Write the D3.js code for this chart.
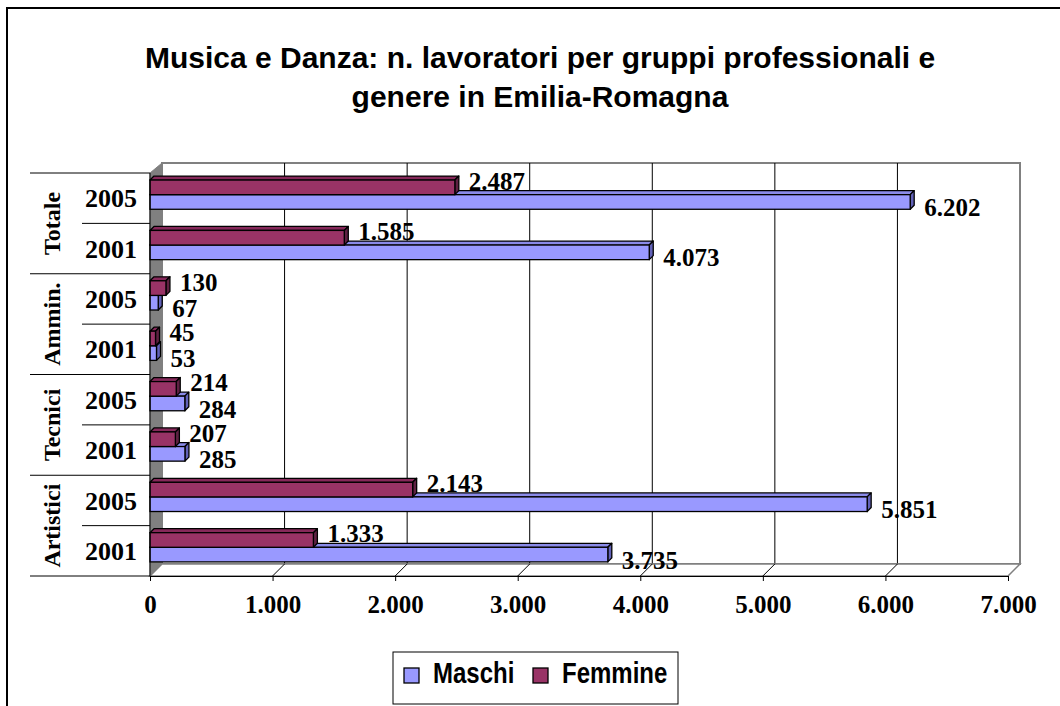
<!DOCTYPE html>
<html>
<head>
<meta charset="utf-8">
<script src="https://cdn.jsdelivr.net/npm/d3@7"></script>
<style>
  body { margin: 0; background: #fff; }
  svg text { fill: #000; }
  .serif { font-family: "Liberation Serif", "Times New Roman", serif; font-weight: bold; }
  .sans { font-family: "Liberation Sans", Arial, sans-serif; font-weight: bold; }
</style>
</head>
<body>
<div id="chart"></div>
<script>
// data
var groups = ["Totale", "Ammin.", "Tecnici", "Artistici"];
var years = ["2005", "2001"];
var maschi = [6202, 4073, 67, 53, 284, 285, 5851, 3735];
var femmine = [2487, 1585, 130, 45, 214, 207, 2143, 1333];
var xTicks = [0, 1000, 2000, 3000, 4000, 5000, 6000, 7000];
var seriesNames = ["Maschi", "Femmine"];

var W = 1060, H = 706;
var depth = 12,      // wall depth offset
    bd = 4;          // bar depth offset

var itFormat = d3.formatLocale({decimal: ",", thousands: ".", grouping: [3], currency: ["€", ""]}).format(",d");

// one row per group/year, top to bottom
var rows = [];
groups.forEach(function (g, gi) {
    years.forEach(function (yr, yi) {
        var i = gi * 2 + yi;
        rows.push({key: g + "-" + yr, group: g, year: yr, m: maschi[i], f: femmine[i]});
    });
});

var svg = d3.select("#chart").append("svg")
    .attr("width", W)
    .attr("height", H);

// outer frame
svg.append("rect")
    .attr("x", 7).attr("y", 8)
    .attr("width", 1200).attr("height", 900)
    .attr("fill", "none")
    .attr("stroke", "#000")
    .attr("stroke-width", 2);

// title
svg.append("text")
    .attr("class", "sans")
    .attr("x", 540)
    .attr("y", 68)
    .attr("text-anchor", "middle")
    .style("font-size", "30px")
    .text("Musica e Danza: n. lavoratori per gruppi professionali e");
svg.append("text")
    .attr("class", "sans")
    .attr("x", 540)
    .attr("y", 107)
    .attr("text-anchor", "middle")
    .style("font-size", "30px")
    .text("genere in Emilia-Romagna");

var x = d3.scaleLinear().domain([0, 7000]).range([150, 1008]);
var y = d3.scaleBand().domain(rows.map(function (d) { return d.key; })).range([173, 576]);
var bw = y.bandwidth(),
    barH = bw * 0.29,
    x0 = x(0), x1 = x(7000),
    yTop = 173, yBot = 576;

// back wall
svg.append("polygon")
    .attr("points", [[x0 + depth, yTop - depth + 2], [x1 + depth, yTop - depth + 2], [x1 + depth, yBot - depth], [x0 + depth, yBot - depth]].join(" "))
    .attr("fill", "#fff")
    .attr("stroke", "#808080")
    .attr("stroke-width", 2);

// gridlines on back wall
svg.selectAll(".grid")
    .data(xTicks.filter(function (v) { return v > 0 && v < 7000; }))
    .enter().append("line")
    .attr("class", "grid")
    .attr("x1", function (d) { return x(d) + depth; })
    .attr("x2", function (d) { return x(d) + depth; })
    .attr("y1", yTop - depth + 2)
    .attr("y2", yBot - depth)
    .attr("stroke", "#000")
    .attr("stroke-width", 1);

// side wall
svg.append("polygon")
    .attr("points", [[x0, yTop], [x0 + depth, yTop - depth + 2], [x0 + depth, yBot - depth], [x0, yBot]].join(" "))
    .attr("fill", "#808080")
    .attr("stroke", "#808080");

// floor
svg.append("polygon")
    .attr("points", [[x0, yBot], [x0 + depth, yBot - depth], [x1 + depth, yBot - depth], [x1, yBot]].join(" "))
    .attr("fill", "#fff")
    .attr("stroke", "#808080")
    .attr("stroke-width", 1.5);
svg.selectAll(".floorline")
    .data(xTicks.filter(function (v) { return v > 0; }))
    .enter().append("line")
    .attr("class", "floorline")
    .attr("x1", function (d) { return x(d); })
    .attr("y1", yBot)
    .attr("x2", function (d) { return x(d) + depth; })
    .attr("y2", yBot - depth)
    .attr("stroke", function (d) { return d === 7000 ? "#808080" : "#000"; });

// x axis
var xAxis = svg.append("g")
    .attr("transform", "translate(0," + yBot + ")")
    .call(d3.axisBottom(x).tickValues(xTicks).tickFormat(itFormat).tickSize(5).tickSizeOuter(0).tickPadding(14));
xAxis.selectAll("text").attr("class", "serif").style("font-size", "25px").attr("fill", "#000");
xAxis.selectAll("line, path").attr("stroke", "#000");

// bars
var shades = {
    Maschi: {front: "#9999ff", top: "#8a8ae8", side: "#6262b8"},
    Femmine: {front: "#993366", top: "#86295a", side: "#5e2142"}
};

function bar3d(g, xEnd, yy, h, col) {
    var xs = x0, xe = xEnd;
    g.append("polygon")
        .attr("points", [[xs, yy], [xs + bd, yy - bd], [xe + bd, yy - bd], [xe, yy]].join(" "))
        .attr("fill", col.top).attr("stroke", "#000").attr("stroke-width", 1.3)
        .attr("stroke-linejoin", "round");
    g.append("polygon")
        .attr("points", [[xe, yy], [xe + bd, yy - bd], [xe + bd, yy + h - bd], [xe, yy + h]].join(" "))
        .attr("fill", col.side).attr("stroke", "#000").attr("stroke-width", 1.3)
        .attr("stroke-linejoin", "round");
    g.append("rect")
        .attr("x", xs).attr("y", yy)
        .attr("width", xe - xs).attr("height", h)
        .attr("fill", col.front).attr("stroke", "#000").attr("stroke-width", 1.3);
}

var rowG = svg.selectAll(".row")
    .data(rows)
    .enter().append("g")
    .attr("class", "row");

rowG.each(function (d) {
    var g = d3.select(this);
    var top = y(d.key);
    // maschi first (below), femmine drawn over it
    bar3d(g, x(d.m), top + bw * 0.14 + barH, barH, shades.Maschi);
    bar3d(g, x(d.f), top + bw * 0.14, barH, shades.Femmine);
});

// value labels
svg.selectAll(".lblF")
    .data(rows)
    .enter().append("text")
    .attr("class", "serif")
    .attr("x", function (d) { return x(d.f) + 14; })
    .attr("y", function (d) { return y(d.key) + bw * 0.16; })
    .attr("dy", "0.35em")
    .style("font-size", "25px")
    .text(function (d) { return itFormat(d.f); });

svg.selectAll(".lblM")
    .data(rows)
    .enter().append("text")
    .attr("class", "serif")
    .attr("x", function (d) { return x(d.m) + 14; })
    .attr("y", function (d) { return y(d.key) + bw * 0.68; })
    .attr("dy", "0.35em")
    .style("font-size", "25px")
    .text(function (d) { return itFormat(d.m); });

// left category axis
svg.append("line")
    .attr("x1", x0).attr("x2", x0)
    .attr("y1", yTop).attr("y2", yBot)
    .attr("stroke", "#000");

svg.selectAll(".sep")
    .data(rows.map(function (d, i) { return i; }).concat([rows.length]))
    .enter().append("line")
    .attr("x1", function (i) { return i % 2 === 0 ? 30 : 82; })
    .attr("x2", x0)
    .attr("y1", function (i) { return i < rows.length ? y(rows[i].key) : yBot; })
    .attr("y2", function (i) { return i < rows.length ? y(rows[i].key) : yBot; })
    .attr("stroke", "#000");

svg.selectAll(".yearLbl")
    .data(rows)
    .enter().append("text")
    .attr("class", "serif")
    .attr("x", 111)
    .attr("y", function (d) { return y(d.key) + bw / 2; })
    .attr("dy", "0.35em")
    .attr("text-anchor", "middle")
    .style("font-size", "26px")
    .text(function (d) { return d.year; });

svg.selectAll(".groupLbl")
    .data(groups)
    .enter().append("text")
    .attr("class", "serif")
    .attr("transform", function (g) {
        var cy = y(g + "-" + years[0]) + bw;
        return "translate(52," + cy + ") rotate(-90)";
    })
    .attr("dy", "0.35em")
    .attr("text-anchor", "middle")
    .style("font-size", "24px")
    .text(function (g) { return g; });

// legend
var legend = svg.append("g");
legend.append("rect")
    .attr("x", 393).attr("y", 652)
    .attr("width", 285).attr("height", 52)
    .attr("fill", "#fff")
    .attr("stroke", "#000");

var legX = [404, 533];
seriesNames.forEach(function (name, i) {
    legend.append("rect")
        .attr("x", legX[i]).attr("y", 668)
        .attr("width", 15).attr("height", 15)
        .attr("fill", shades[name].front)
        .attr("stroke", "#000")
        .attr("stroke-width", 1.3);
    legend.append("text")
        .attr("class", "sans")
        .attr("transform", "translate(" + (legX[i] + 29) + ",683) scale(1,1.2)")
        .style("font-size", "24px")
        .text(name);
});
</script>
</body>
</html>
